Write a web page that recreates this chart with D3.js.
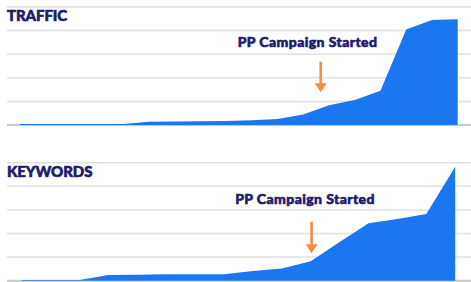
<!DOCTYPE html>
<html lang="en">
<head>
<meta charset="utf-8">
<script src="https://cdnjs.cloudflare.com/ajax/libs/d3/7.8.5/d3.min.js"></script>
<style>
  body { margin: 0; background: #fff; }
  svg { display: block; }
  .title { font-family: Lato, "Open Sans", sans-serif; font-weight: 900; fill: #1f1b6c; stroke: #1f1b6c; stroke-width: 0.6px; }
</style>
</head>
<body>
<div id="chart"></div>
<script>
// traffic over time (relative units, 0-100)
var trafficValues = [0.8, 0.8, 0.8, 0.8, 0.8, 2.8, 3, 3.1, 3.3, 4, 5, 9, 16.7, 21.2, 29, 81, 89, 89.6];
// keywords over time (relative units, 0-100)
var keywordValues = [0.6, 0.6, 0.6, 4.8, 5, 5.4, 5.4, 5.5, 8.2, 10.3, 16.5, 32.8, 48.6, 52.3, 56.5, 96.6];
var gridTicks = [0, 20, 40, 60, 80, 100];
var panelTitles = ["TRAFFIC", "KEYWORDS"];
var annotationText = "PP Campaign Started";
// index (along x) where the campaign arrow points
var campaignIndex = [11.68, 10.03];

var width = 471, height = 282;
var svg = d3.select("#chart").append("svg")
    .attr("width", width)
    .attr("height", height);

var panels = [
    {values: trafficValues, top: 7, base: 125, x0: 20, x1: 457.7, textX: 307.5, textY: 47.3, arrowTop: 61.7, arrowTip: 92.3},
    {values: keywordValues, top: 162.7, base: 280.7, x0: 21.7, x1: 455.2, textX: 305, textY: 203.5, arrowTop: 221.7, arrowTip: 253.3}
];

panels.forEach(function(p, k) {
    var g = svg.append("g");
    var x = d3.scaleLinear().domain([0, p.values.length - 1]).range([p.x0, p.x1]);
    var y = d3.scaleLinear().domain([0, 100]).range([p.base, p.top]);

    // gridlines
    g.selectAll("line.grid")
        .data(gridTicks)
        .enter()
        .append("line")
        .attr("x1", 7)
        .attr("x2", width)
        .attr("y1", function(d){ return y(d); })
        .attr("y2", function(d){ return y(d); })
        .attr("stroke", function(d){ return d === 0 ? "#c9c9c9" : "#e0e0e0"; })
        .attr("stroke-width", function(d){ return d === 0 ? 2 : 1.5; });

    var area = d3.area()
        .x(function(d, i){ return x(i); })
        .y0(y(0))
        .y1(function(d){ return y(d); });

    g.append("path")
        .datum(p.values)
        .attr("d", area)
        .attr("fill", "#1b77ef");

    // panel title
    g.append("text")
        .attr("class", "title")
        .attr("x", 7)
        .attr("y", p.top + 14.3)
        .attr("font-size", 15)
        .attr("letter-spacing", -0.1)
        .text(panelTitles[k]);

    // annotation
    g.append("text")
        .attr("class", "title")
        .attr("x", p.textX)
        .attr("y", p.textY)
        .attr("text-anchor", "middle")
        .attr("font-size", 14)
        .attr("letter-spacing", 0.4)
        .text(annotationText);

    var ax = x(campaignIndex[k]);
    g.append("line")
        .attr("x1", ax).attr("x2", ax)
        .attr("y1", p.arrowTop).attr("y2", p.arrowTip - 8)
        .attr("stroke", "#fb8d40")
        .attr("stroke-width", 2.6);
    g.append("path")
        .attr("d", "M" + (ax - 6) + "," + (p.arrowTip - 9) + "L" + (ax + 6) + "," + (p.arrowTip - 9) + "L" + ax + "," + p.arrowTip + "Z")
        .attr("fill", "#fb8d40");
});
</script>
</body>
</html>
